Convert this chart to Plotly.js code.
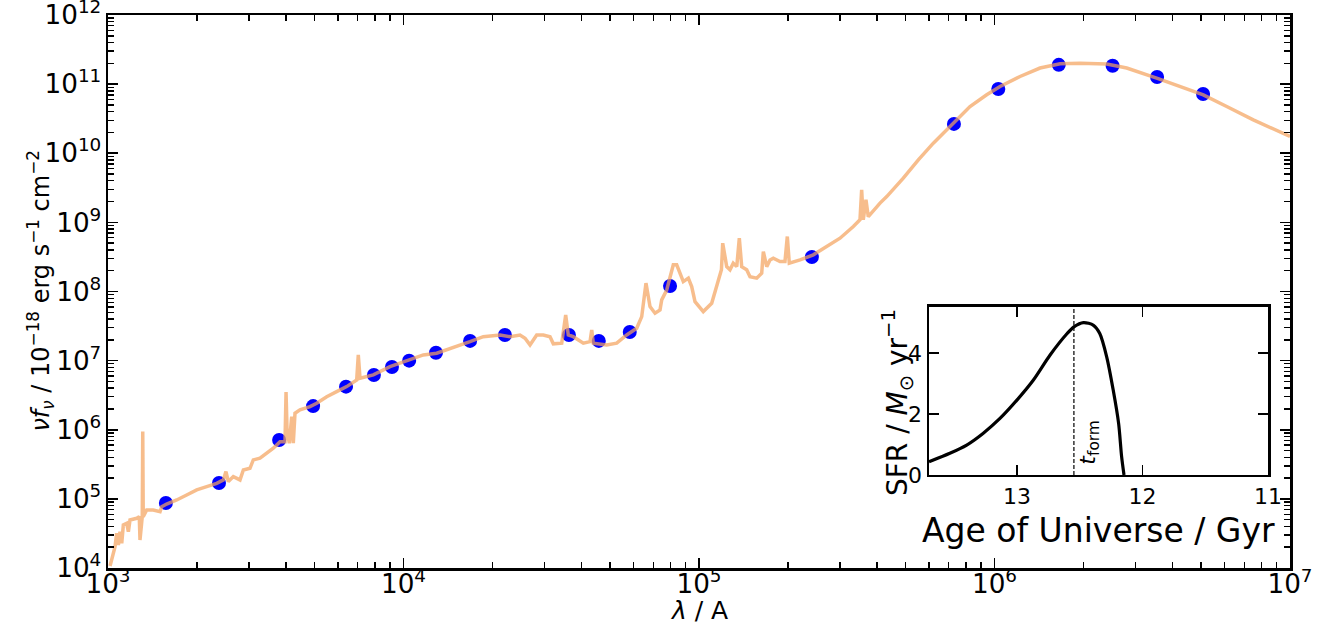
<!DOCTYPE html>
<html>
<head>
<meta charset="utf-8">
<script src="https://cdn.plot.ly/plotly-3.0.1.min.js"></script>
<style>html,body{margin:0;padding:0;background:#fff;}#chart{width:1336px;height:636px;}</style>
</head>
<body>
<div id="chart"></div>
<script>
// Model spectrum (wavelength in A, nu f_nu in 1e-18 erg/s/cm^2)
const specLam = [1016,1056,1070,1084,1098,1113,1127,1157,1172,1187,1251,1276,1283,1300,1306,1311,1316,1352,1423,1500,1520,1579,1708,1846,1996,2158,2333,2456,2507,2554,2655,2797,2871,3023,3102,3269,3444,3626,3820,3919,3972,4004,4035,4107,4185,4237,4293,4463,4826,5085,5497,5940,6423,6944,7031,7125,7903,9001,10520,11670,12950,15140,16790,18620,21220,22930,24790,25780,26800,28230,29720,31320,32140,34310,35390,36120,37550,40600,42770,43350,43890,48710,52660,56930,61540,64000,66150,68270,70990,73800,74780,77750,81850,84050,88500,92020,94460,96940,103400,110400,114800,119100,120300,124100,127300,130600,134200,136900,139500,145000,148800,156800,163000,165100,169500,173900,178400,187900,195400,199000,202100,219800,243700,270500,300100,332900,350600,355200,359700,367300,374000,409800,431800,491300,552400,620800,725300,826300,941000,1.044e6,1.220e6,1.426e6,1.667e6,1.947e6,2.398e6,2.802e6,3.539e6,4.244e6,5.089e6,6.107e6,7.513e6,1.0e7];
const specFlux = [1.07e4,2.01e4,3.18e4,2.15e4,3.35e4,2.28e4,4.19e4,4.43e4,3.35e4,4.95e4,5.24e4,5.53e4,2.54e4,5.53e4,5.53e4,9.4e5,5.53e4,6.9e4,6.9e4,6.53e4,7.71e4,8.43e4,9.64e4,1.14e5,1.35e5,1.50e5,1.68e5,1.88e5,2.48e5,1.78e5,2.10e5,1.88e5,2.62e5,2.77e5,3.66e5,3.87e5,4.57e5,5.40e5,6.73e5,6.73e5,6.73e5,3.52e6,9.93e5,6.38e5,1.55e6,6.38e5,1.73e6,1.94e6,2.16e6,2.42e6,3.01e6,3.56e6,4.21e6,5.26e6,1.21e7,5.56e6,6.21e6,8.19e6,1.02e7,1.21e7,1.28e7,1.60e7,1.88e7,2.22e7,2.35e7,2.22e7,2.35e7,2.11e7,1.69e7,2.35e7,2.35e7,2.22e7,1.75e7,1.79e7,4.59e7,2.35e7,2.22e7,1.79e7,1.88e7,2.78e7,1.79e7,1.69e7,1.79e7,2.35e7,2.94e7,4.33e7,1.32e8,6.04e7,4.85e7,5.42e7,7.56e7,1.05e8,2.43e8,2.43e8,1.39e8,1.56e8,1.18e8,7.14e7,5.12e7,6.77e7,1.18e8,2.06e8,5.0e8,2.29e8,2.06e8,2.57e8,2.29e8,5.9e8,2.29e8,2.06e8,1.64e8,1.56e8,1.84e8,3.78e8,2.29e8,2.86e8,3.03e8,2.71e8,2.71e8,6.24e8,2.57e8,2.86e8,3.39e8,4.47e8,5.9e8,8.69e8,1.09e9,2.95e9,1.09e9,2.12e9,1.21e9,1.90e9,2.36e9,4.36e9,8.02e9,1.40e10,2.72e10,4.74e10,7.0e10,9.23e10,1.29e11,1.71e11,1.97e11,2.01e11,1.95e11,1.71e11,1.22e11,9.23e10,7.0e10,4.74e10,3.04e10,1.75e10];

// Photometric points
const photLam = [1570,2375,3794,4944,6390,7940,9140,10450,12880,16800,22040,36300,45800,58300,79800,241000,729000,1.03e6,1.65e6,2.51e6,3.55e6,5.08e6];
const photFlux = [8.7e4,1.7e5,7.1e5,2.2e6,4.2e6,6.2e6,8.1e6,1.0e7,1.3e7,1.93e7,2.35e7,2.35e7,1.93e7,2.6e7,1.2e8,3.16e8,2.66e10,8.5e10,1.9e11,1.84e11,1.27e11,7.2e10];

// Star formation history (inset)
const sfrAge = [13.70,13.534,13.40,13.27,13.135,13.0,12.87,12.737,12.60,12.546,12.47,12.39,12.34,12.285,12.233,12.19,12.166,12.147];
const sfrVal = [0.435,0.71,0.98,1.36,1.85,2.45,3.10,3.92,4.63,4.85,4.99,4.90,4.63,3.87,2.78,1.69,0.60,0.0];
const tform = 12.546;

// Axis decades (for minor ticks)
const xDecades = [3, 4, 5, 6, 7];
const yDecades = [4, 5, 6, 7, 8, 9, 10, 11, 12];

const FONT = 'DejaVu Sans, sans-serif';

function minorVals(decs) {
  const out = [];
  for (let i = 0; i < decs.length - 1; i++) for (let m = 2; m <= 9; m++) out.push(m * Math.pow(10, decs[i]));
  return out;
}

const traces = [
  {x: photLam, y: photFlux, type: 'scatter', mode: 'markers',
   marker: {color: '#0000ff', size: 14, line: {width: 0}}, xaxis: 'x', yaxis: 'y', showlegend: false},
  {x: specLam, y: specFlux, type: 'scatter', mode: 'lines',
   line: {color: '#F4A460', width: 3.5}, opacity: 0.72, xaxis: 'x', yaxis: 'y', showlegend: false},
  {x: sfrAge, y: sfrVal, type: 'scatter', mode: 'lines', line: {color: 'black', width: 3.2, shape: 'spline', smoothing: 0.8},
   xaxis: 'x2', yaxis: 'y2', showlegend: false},
  {x: [tform, tform], y: [0, 5.5], type: 'scatter', mode: 'lines', line: {color: 'black', width: 1.2, dash: '4px,2px'},
   xaxis: 'x2', yaxis: 'y2', showlegend: false},
  {x: [1e3], y: [1e4], type: 'scatter', mode: 'markers', marker: {opacity: 0}, xaxis: 'x3', yaxis: 'y3', showlegend: false, hoverinfo: 'skip'}
];

const axCommon = {
  showline: true, linecolor: 'black', linewidth: 2.5, mirror: 'ticks',
  ticks: 'inside', ticklen: 10, tickwidth: 1.6, tickcolor: 'black',
  showgrid: false, zeroline: false
};
const minorAx = {
  showline: true, linecolor: 'black', linewidth: 2.5, ticks: 'inside', ticklen: 6, tickwidth: 1.4, tickcolor: 'black',
  showgrid: false, zeroline: false, showticklabels: false, mirror: 'ticks', tickmode: 'array'
};

const layout = {
  width: 1336, height: 636,
  margin: {l: 108, r: 46, t: 15, b: 68},
  paper_bgcolor: 'white', plot_bgcolor: 'white',
  font: {family: FONT, color: 'black', size: 20},
  showlegend: false,
  xaxis: Object.assign({}, axCommon, {
    type: 'log', range: [3, 7], dtick: 1, exponentformat: 'power',
    tickfont: {size: 21, family: FONT}, ticklabeloverflow: 'allow', ticklabelstandoff: -8
  }),
  yaxis: Object.assign({}, axCommon, {
    type: 'log', range: [4, 12], dtick: 1, exponentformat: 'power',
    tickfont: {size: 21, family: FONT}, ticklabeloverflow: 'allow'
  }),
  xaxis3: Object.assign({}, minorAx, {type: 'log', range: [3, 7], overlaying: 'x', anchor: 'y', tickvals: minorVals(xDecades)}),
  yaxis3: Object.assign({}, minorAx, {type: 'log', range: [4, 12], overlaying: 'y', anchor: 'x', tickvals: minorVals(yDecades)}),
  xaxis2: Object.assign({}, axCommon, {
    domain: [0.6946, 0.9814], anchor: 'y2', range: [13.7, 11], tickvals: [13, 12, 11],
    tickfont: {size: 22, family: FONT}
  }),
  yaxis2: Object.assign({}, axCommon, {
    domain: [0.1682, 0.472], anchor: 'x2', range: [0, 5.5], tickvals: [0, 2, 4],
    tickfont: {size: 22, family: FONT}
  }),
  annotations: [
    {xref: 'paper', yref: 'paper', x: -0.0575, y: 0.5, xanchor: 'center', yanchor: 'middle', textangle: -90,
     text: '<i>νf<sub>ν</sub></i> / 10<sup>−18</sup> erg s<sup>−1</sup> cm<sup>−2</sup>', showarrow: false,
     font: {size: 24, family: FONT}},
    {xref: 'paper', yref: 'paper', x: 0.5, y: -0.076, xanchor: 'center', yanchor: 'middle',
     text: '<i>λ</i> / A', showarrow: false, font: {size: 25, family: FONT}},
    {xref: 'paper', yref: 'paper', x: 0.6675, y: 0.30, xanchor: 'center', yanchor: 'middle', textangle: -90,
     text: 'SFR / <i>M</i><sub>⊙</sub> yr<sup>−1</sup>', showarrow: false, font: {size: 28, family: FONT}},
    {xref: 'paper', yref: 'paper', x: 0.8376, y: 0.0687, xanchor: 'center', yanchor: 'middle',
     text: 'Age of Universe / Gyr', showarrow: false, font: {size: 33, family: FONT}},
    {xref: 'x2', yref: 'y2', x: 12.42, y: 0.28, yanchor: 'bottom', xanchor: 'center',
     text: '<i>t</i><sub>form</sub>', textangle: -90, showarrow: false, font: {size: 22, family: FONT}}
  ]
};

Plotly.newPlot('chart', traces, layout, {displayModeBar: false, staticPlot: true});
</script>
</body>
</html>
